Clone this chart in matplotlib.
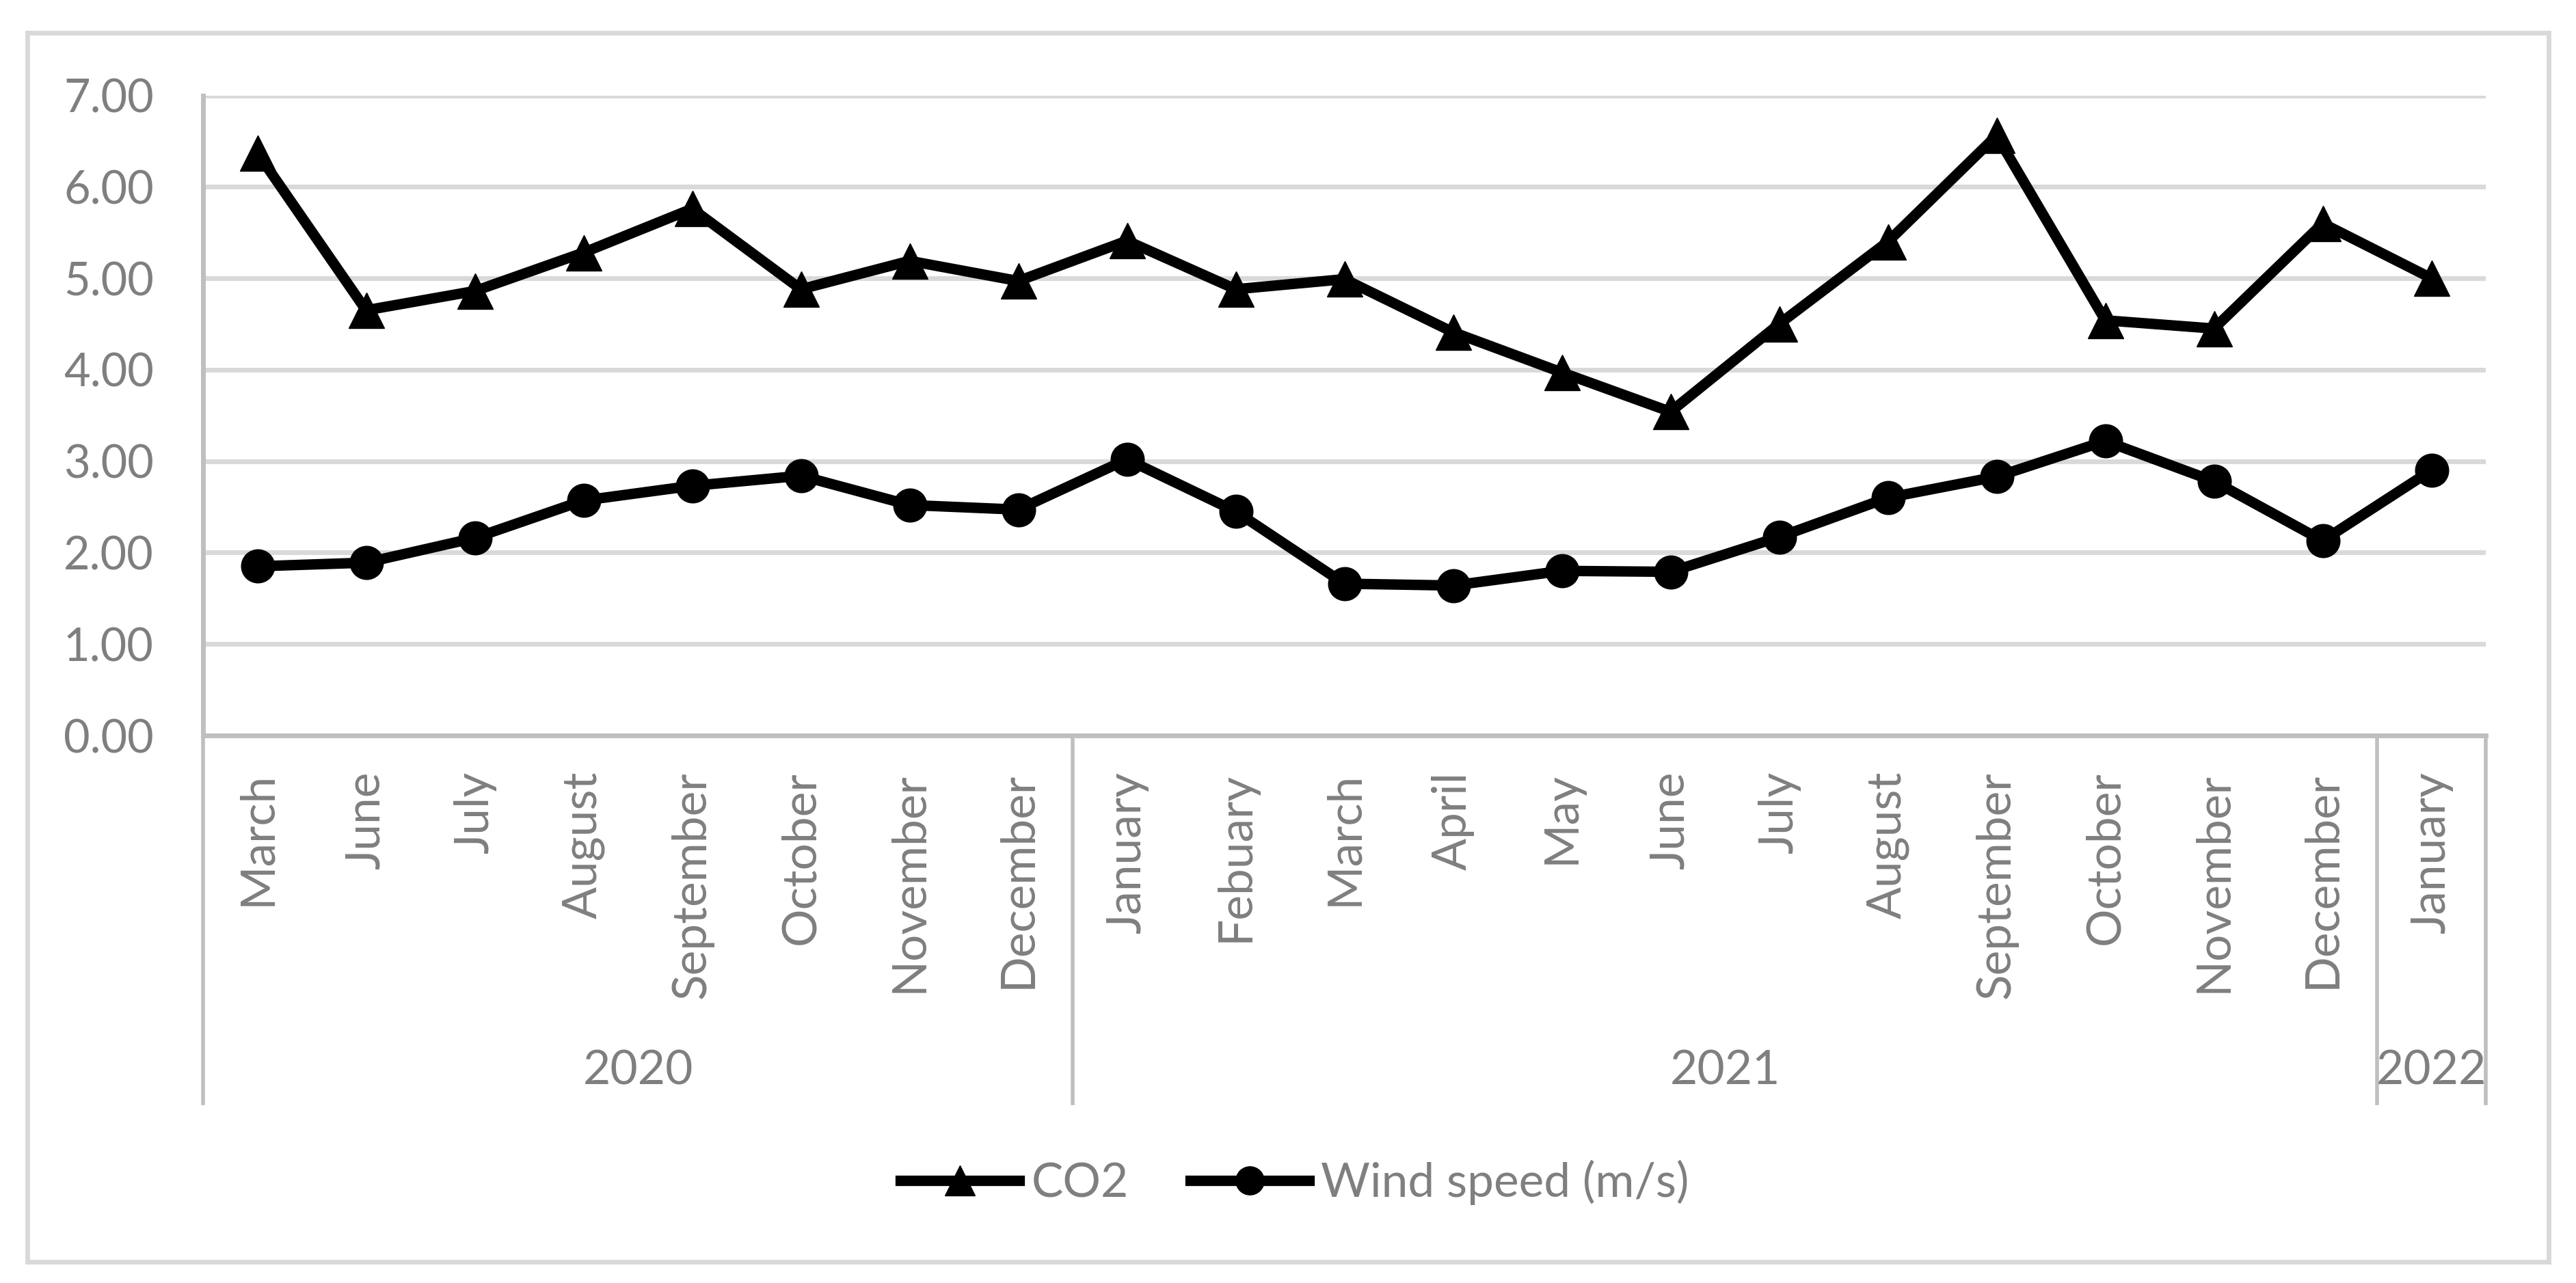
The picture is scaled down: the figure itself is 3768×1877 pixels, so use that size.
import matplotlib
matplotlib.use("Agg")
import matplotlib.pyplot as plt
from matplotlib.lines import Line2D
from matplotlib.patches import Rectangle
from matplotlib.transforms import blended_transform_factory

months = ["March", "June", "July", "August", "September", "October", "November", "December",
          "January", "Febuary", "March", "April", "May", "June", "July", "August",
          "September", "October", "November", "December", "January"]
years = ["2020", "2021", "2022"]
year_counts = [8, 12, 1]

co2 = [6.37, 4.65, 4.86, 5.28, 5.76, 4.88, 5.19, 4.97,
       5.41, 4.88, 4.99, 4.41, 3.97, 3.54, 4.50, 5.40,
       6.56, 4.54, 4.45, 5.60, 5.00]
wind = [1.85, 1.89, 2.16, 2.57, 2.73, 2.84, 2.52, 2.47,
        3.02, 2.45, 1.66, 1.64, 1.80, 1.79, 2.17, 2.60,
        2.83, 3.22, 2.78, 2.13, 2.90]

plt.rcParams['font.family'] = ['Lato', 'DejaVu Sans']
text_gray = "#7f7f7f"
grid_gray = "#d9d9d9"
axis_gray = "#bfbfbf"

W, H = 3768, 1877
fig = plt.figure(figsize=(W / 100, H / 100), dpi=100)

# outer chart frame
fig.patches.append(Rectangle((40 / W, 1 - 1846 / H), (3728 - 40) / W, (1846 - 48) / H,
                             transform=fig.transFigure, fill=False,
                             edgecolor=grid_gray, linewidth=5))

left, right, top, bottom = 297, 3636, 139.5, 1076
ax = fig.add_axes([left / W, 1 - bottom / H, (right - left) / W, (bottom - top) / H])

x = list(range(len(months)))
ax.plot(x, co2, color="black", linewidth=11, marker="^", markersize=37,
        label="CO2", zorder=3)
ax.plot(x, wind, color="black", linewidth=11, marker="o", markersize=35,
        label="Wind speed (m/s)", zorder=3)

ax.set_xlim(-0.5, len(months) - 0.5)
ax.set_ylim(0, 7)
ax.set_yticks(range(8))
ax.set_yticklabels(["{:.2f}".format(v) for v in range(8)])
ax.yaxis.grid(True, color=grid_gray, linewidth=5)
ax.set_axisbelow(True)
ax.tick_params(axis="y", length=0, pad=52, labelsize=48, labelcolor=text_gray)

ax.set_xticks(x)
ax.set_xticklabels(months, rotation=90)
ax.tick_params(axis="x", length=0, pad=38, labelsize=50, labelcolor=text_gray)

for s in ["top", "right"]:
    ax.spines[s].set_visible(False)
ax.spines["left"].set_color(axis_gray)
ax.spines["left"].set_linewidth(5)
ax.spines["bottom"].set_color(axis_gray)
ax.spines["bottom"].set_linewidth(5)

# multi-level category axis: group dividers and year labels
trans = blended_transform_factory(ax.transData, ax.transAxes)
div_bottom = (bottom - 1614) / (bottom - top)
year_y = (bottom - 1567) / (bottom - top)
start = 0
edges = [-0.5]
for name, n in zip(years, year_counts):
    ax.text(start + (n - 1) / 2, year_y, name, transform=trans, ha="center", va="center",
            fontsize=50, color=text_gray)
    start += n
    edges.append(start - 0.5)
for e in edges:
    ax.add_line(Line2D([e, e], [0, div_bottom], transform=trans, color=axis_gray,
                       linewidth=4, clip_on=False))

ax.legend(loc="center", bbox_to_anchor=(1894 / W, 1 - 1730 / H), bbox_transform=fig.transFigure,
          ncol=2, frameon=False, fontsize=50, labelcolor=text_gray, handlelength=2.5,
          handletextpad=0.25, columnspacing=1.3, markerscale=0.85)

fig.savefig("out.png", dpi=100)
